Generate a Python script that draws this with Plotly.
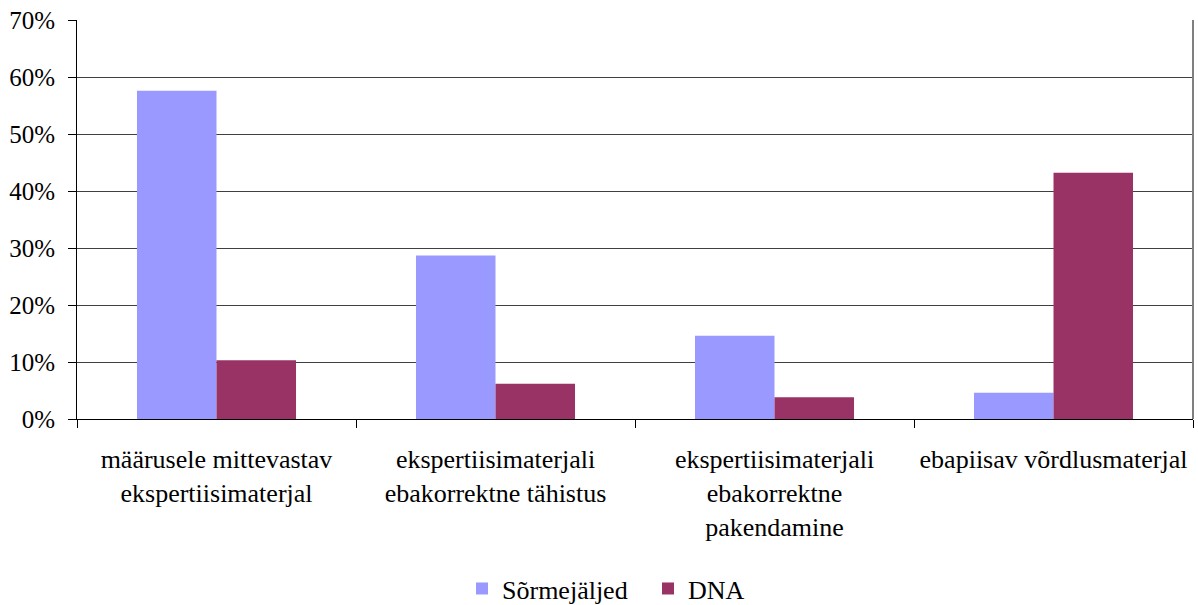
import plotly.graph_objects as go

categories = [
    "määrusele mittevastav<br>ekspertiisimaterjal",
    "ekspertiisimaterjali<br>ebakorrektne tähistus",
    "ekspertiisimaterjali<br>ebakorrektne<br>pakendamine",
    "ebapiisav võrdlusmaterjal",
]
sormejaljed = [0.576, 0.287, 0.146, 0.046]
dna = [0.103, 0.062, 0.038, 0.432]
y_ticks = [0, 0.1, 0.2, 0.3, 0.4, 0.5, 0.6, 0.7]
y_labels = ["0%", "10%", "20%", "30%", "40%", "50%", "60%", "70%"]

font_family = "Times New Roman"

fig = go.Figure()
fig.add_trace(go.Bar(name="Sõrmejäljed", x=categories, y=sormejaljed,
                     marker=dict(color="#9999FF", line=dict(width=0))))
fig.add_trace(go.Bar(name="DNA", x=categories, y=dna,
                     marker=dict(color="#993366", line=dict(width=0))))

fig.update_layout(
    width=1198, height=605,
    margin=dict(l=77, r=5, t=20, b=186, autoexpand=False),
    paper_bgcolor="white", plot_bgcolor="white",
    barmode="group", bargap=0.43, bargroupgap=0,
    font=dict(family=font_family, size=25, color="black"),
    legend=dict(orientation="h", x=0.345, xanchor="left", y=-0.425, yanchor="middle",
                font=dict(family=font_family, size=26), itemsizing="constant",
                entrywidth=141, entrywidthmode="pixels", traceorder="normal"),
    xaxis=dict(showline=True, linecolor="black", linewidth=1, automargin=False,
               ticks="outside", tickson="boundaries", ticklen=8, tickcolor="black",
               ticklabelstandoff=17, tickfont=dict(family=font_family, size=26),
               showgrid=False),
    yaxis=dict(range=[0, 0.7], tickvals=y_ticks, ticktext=y_labels, automargin=False,
               showline=True, linecolor="black", linewidth=1,
               ticks="outside", ticklen=8, tickcolor="black", ticklabelstandoff=8,
               showgrid=True, gridcolor="#404040", gridwidth=1,
               tickfont=dict(family=font_family, size=25), zeroline=False),
)
fig.add_shape(type="line", xref="paper", yref="paper", x0=1, x1=1, y0=0, y1=1,
              line=dict(color="#808080", width=2))
fig.write_html("out.html", config={"displayModeBar": False},
               post_script="document.body.style.margin='0';")
